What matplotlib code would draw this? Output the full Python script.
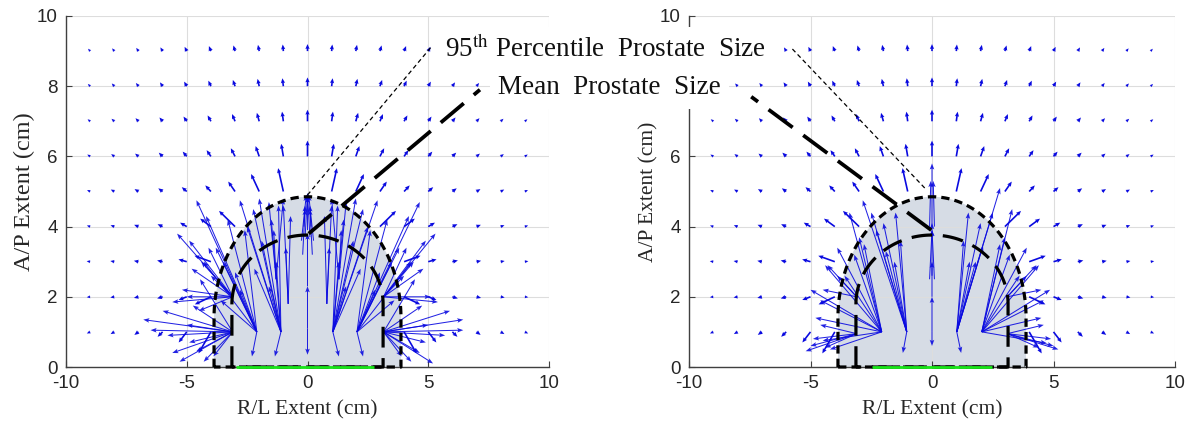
import numpy as np
import matplotlib
matplotlib.use('Agg')
import matplotlib.pyplot as plt

plt.rcParams['font.family'] = ['Liberation Sans', 'DejaVu Sans']
plt.rcParams['mathtext.fontset'] = 'stix'
plt.rcParams['axes.unicode_minus'] = False

# ---------------- data ----------------
GRID_X = list(range(-9, 10))
GRID_Y = list(range(1, 10))

# orientation (deg) of outer field vectors, rows y=1..9, columns x=-9..9
GRID_ANG = [
    [198, 202, 207, 214, 222, 230, 240, 250, 260, 270, 280, 290, 300, 310, 318, 326, 333, 338, 342],
    [185, 187, 190, 192, 195, 198, 200, 200, 190, 90, -10, -20, -20, 342, 345, 348, 350, 353, 355],
    [174, 173, 172, 171, 169, 166, 162, 153, 135, 90, 45, 27, 18, 14, 11, 9, 8, 7, 6],
    [167, 166, 164, 162, 158, 153, 146, 135, 117, 90, 63, 45, 34, 27, 22, 18, 16, 14, 13],
    [162, 159, 157, 153, 149, 143, 135, 124, 108, 90, 72, 56, 45, 37, 31, 27, 23, 21, 18],
    [156, 153, 150, 146, 141, 135, 127, 117, 104, 90, 76, 63, 53, 45, 39, 34, 30, 27, 24],
    [151, 148, 144, 140, 135, 129, 121, 112, 101, 90, 79, 68, 59, 51, 45, 40, 36, 32, 29],
    [146, 143, 139, 135, 130, 124, 117, 108, 100, 90, 80, 72, 63, 56, 50, 45, 41, 37, 34],
    [142, 139, 135, 131, 126, 120, 113, 106, 98, 90, 82, 74, 67, 60, 54, 49, 45, 41, 38],
]
# length (cm) of outer field vectors, rows y=1..9, columns x=-9..9
GRID_LEN = [
    [0.145, 0.165, 0.19, 0.25, 0.45, 0.80, 0, 0, 0, 0, 0, 0, 0, 0.80, 0.45, 0.25, 0.19, 0.165, 0.145],
    [0.14, 0.165, 0.19, 0.23, 0.35, 0.70, 0, 0, 0, 0, 0, 0, 0, 0.70, 0.35, 0.23, 0.19, 0.165, 0.14],
    [0.145, 0.165, 0.19, 0.23, 0.35, 0.70, 0, 0, 0, 0, 0, 0, 0, 0.70, 0.35, 0.23, 0.19, 0.165, 0.145],
    [0.14, 0.16, 0.185, 0.22, 0.30, 0.50, 0.80, 0, 0, 0, 0, 0, 0.80, 0.50, 0.30, 0.22, 0.185, 0.16, 0.14],
    [0.135, 0.155, 0.175, 0.20, 0.24, 0.29, 0.40, 0.60, 0.70, 0, 0.70, 0.60, 0.40, 0.29, 0.24, 0.20, 0.175, 0.155, 0.135],
    [0.13, 0.145, 0.16, 0.19, 0.215, 0.25, 0.29, 0.33, 0.37, 0.45, 0.37, 0.33, 0.29, 0.25, 0.215, 0.19, 0.16, 0.145, 0.13],
    [0.12, 0.135, 0.15, 0.17, 0.19, 0.215, 0.24, 0.26, 0.28, 0.33, 0.28, 0.26, 0.24, 0.215, 0.19, 0.17, 0.15, 0.135, 0.12],
    [0.115, 0.13, 0.14, 0.155, 0.17, 0.19, 0.20, 0.22, 0.23, 0.25, 0.23, 0.22, 0.20, 0.19, 0.17, 0.155, 0.14, 0.13, 0.115],
    [0.11, 0.12, 0.13, 0.14, 0.15, 0.165, 0.175, 0.185, 0.19, 0.20, 0.19, 0.185, 0.175, 0.165, 0.15, 0.14, 0.13, 0.12, 0.11],
]

# interior vector fans: origin -> list of tips (cm)
LEFT_FAN_ORIGINS = [(-3.1, 1.0), (-3.1, 2.0), (-2.1, 1.0), (-1.1, 1.0), (-0.8, 1.8),
                    (-1.3, 2.5), (0.0, 1.1), (0.0, 2.3),
                    (1.05, 1.0), (2.05, 1.0), (3.15, 1.0), (3.15, 2.0), (0.8, 1.8),
                    (1.3, 2.5)]
LEFT_FAN_TIPS = [
    [(-6.8, 1.35), (-6.5, 1.05), (-5.6, 0.4), (-5.3, 0.15), (-4.9, 0.7), (-4.3, 0.15),
     (-4.75, 1.75), (-4.45, 2.5), (-3.9, 0.3), (-6.0, 1.6), (-5.8, 0.9), (-5.0, 1.2), (-4.6, 0.45)],
    [(-5.4, 3.8), (-4.9, 3.6), (-5.0, 2.0), (-5.6, 1.85), (-4.4, 3.0), (-4.1, 3.4), (-4.5, 1.6),
     (-4.8, 2.8), (-4.0, 2.6), (-5.2, 2.2)],
    [(-4.6, 4.75), (-3.8, 3.4), (-3.3, 4.2), (-3.0, 2.7), (-2.3, 0.3), (-3.6, 1.9), (-2.6, 3.9),
     (-4.2, 4.3), (-3.5, 3.0), (-2.8, 2.2), (-4.3, 3.0)],
    [(-2.8, 4.75), (-2.25, 4.5), (-1.9, 3.6), (-1.5, 4.2), (-1.35, 0.3), (-1.6, 2.3), (-1.2, 4.6),
     (-2.5, 4.0), (-2.0, 4.8), (-1.3, 3.0), (-2.2, 2.8)],
    [(-1.0, 4.6), (-0.7, 4.3), (-0.9, 3.4)],
    [(-1.6, 4.7), (-1.0, 4.8), (-1.4, 3.9)],
    [(0.0, 2.3), (0.0, 0.35)],
    [(0.0, 3.8)],
    [(2.9, 4.75), (2.3, 4.5), (1.9, 3.6), (1.5, 4.2), (1.3, 0.3), (1.6, 2.3), (1.25, 4.6),
     (2.5, 4.0), (2.0, 4.8), (1.3, 3.0), (2.2, 2.8)],
    [(4.65, 4.7), (3.8, 3.4), (3.3, 4.2), (3.0, 2.7), (2.3, 0.3), (3.6, 1.9), (2.6, 3.9),
     (4.2, 4.3), (3.5, 3.0), (2.8, 2.2), (4.3, 3.0)],
    [(6.45, 1.35), (6.45, 1.05), (5.2, 0.1), (4.65, 0.4), (4.9, 0.7), (4.3, 0.15), (4.75, 1.75),
     (4.45, 2.5), (5.9, 1.6), (5.7, 0.9), (5.0, 1.2), (3.9, 0.3)],
    [(5.3, 3.8), (4.9, 3.6), (5.1, 2.0), (5.4, 1.85), (4.4, 3.0), (4.1, 3.4), (4.8, 2.8),
     (4.0, 2.6)],
    [(1.0, 4.6), (0.7, 4.3), (0.9, 3.4)],
    [(1.6, 4.7), (1.0, 4.8), (1.4, 3.9)],
]
LEFT_TOP_BASES = [(-0.25, 3.6), (-0.1, 3.7), (0.1, 3.7), (0.25, 3.6), (0.0, 3.9),
                  (-0.15, 4.0), (0.15, 4.0), (-0.2, 3.2), (0.2, 3.2)]
LEFT_TOP_TIPS = [(-0.05, 4.9), (0.0, 4.95), (0.0, 4.95), (0.05, 4.9), (0.0, 4.85),
                 (-0.1, 4.6), (0.1, 4.6), (-0.1, 4.5), (0.1, 4.5)]

RIGHT_FAN_ORIGINS = [(-2.07, 1.0), (-1.04, 1.0), (-3.1, 0.95), (-3.1, 2.0),
                     (0.0, 1.0), (0.0, 2.0),
                     (1.02, 1.0), (2.05, 1.0), (3.1, 0.95), (3.1, 2.0)]
RIGHT_FAN_TIPS = [
    [(-5.0, 2.2), (-4.5, 0.75), (-3.4, 4.4), (-4.4, 2.9), (-3.9, 3.4), (-3.0, 3.7), (-4.8, 1.4),
     (-4.2, 0.5), (-3.2, 3.2), (-2.8, 3.5), (-3.6, 2.6), (-4.6, 1.9)],
    [(-2.85, 4.75), (-2.3, 3.9), (-1.9, 3.3), (-1.2, 0.4), (-1.55, 3.0), (-1.5, 4.4),
     (-2.5, 4.4), (-2.0, 4.1), (-1.3, 3.6)],
    [(-5.2, 0.45), (-4.9, 0.8), (-4.4, 0.55), (-4.6, 1.2), (-5.0, 0.6)],
    [(-4.3, 2.9), (-4.5, 2.2), (-3.9, 2.6)],
    [(0.0, 0.6), (0.0, 2.0)],
    [(0.0, 3.0)],
    [(2.8, 5.1), (2.1, 3.45), (1.8, 3.0), (1.2, 0.4), (1.55, 3.0), (1.5, 4.4), (2.5, 4.4),
     (2.0, 4.1), (1.3, 3.6)],
    [(3.3, 4.5), (4.86, 2.2), (4.4, 2.9), (3.9, 3.4), (4.72, 0.68), (4.5, 1.4), (3.0, 3.7),
     (3.2, 3.2), (2.8, 3.5), (3.6, 2.6), (4.6, 1.9)],
    [(5.2, 0.5), (4.9, 0.8), (4.4, 0.55), (4.6, 1.2), (5.0, 0.6)],
    [(4.3, 2.9), (4.5, 2.2), (3.9, 2.6)],
]
RIGHT_TOP_BASES = [(-0.1, 2.5), (0.1, 2.5), (0.0, 2.6), (0.0, 4.0), (-0.1, 4.0), (0.1, 4.0)]
RIGHT_TOP_TIPS = [(0.0, 3.9), (0.0, 3.9), (0.0, 4.1), (0.0, 5.8), (-0.05, 5.3), (0.05, 5.3)]

# prostate outlines: half-width, straight-side height, arc height (cm)
OUTER_95 = (3.87, 1.4, 3.45)
INNER_MEAN = (3.13, 1.8, 1.96)
GREEN_SPAN = {'left': (-2.95, 2.75), 'right': (-2.47, 2.47)}

# leader lines (cm, in each panel's coordinates)
LEADERS = {
    'left': {'p95': ((0.0, 4.9), (5.1, 9.1)), 'mean': ((0.05, 3.8), (7.14, 7.9))},
    'right': {'p95': ((-0.3, 5.1), (-5.8, 9.1)), 'mean': ((-0.03, 3.9), (-7.44, 7.7))},
}

X_TICKS = [-10, -5, 0, 5, 10]
Y_TICKS = [0, 2, 4, 6, 8, 10]
Y_LABELS = {'left': ['0', '2', '4', '6', '8', '10'],
            'right': ['0', '2', '4', '6', '', '10']}

# ---------------- drawing ----------------
W, H = 1194, 430
fig = plt.figure(figsize=(W / 100, H / 100), dpi=100)

BLUE = '#0a0ae0'
SERIF = ['Liberation Serif', 'DejaVu Serif']


def outline(params):
    a, c, b = params
    t = np.linspace(np.pi, 0, 120)
    xs = np.concatenate([[-a], a * np.cos(t), [a, a, -a, -a]])
    ys = np.concatenate([[0], c + b * np.sin(t), [c, 0, 0, 0]])
    ys[1] = c
    ys[-2] = 0
    return xs, ys


def draw_panel(rect, origins, tips, top_b, top_t, side, ylab_size):
    ax = fig.add_axes(rect)
    ax.set_xlim(-10, 10)
    ax.set_ylim(0, 10)

    xo, yo = outline(OUTER_95)
    ax.fill(xo, yo, color='#d6dce5', lw=0, zorder=1)

    gx, gy = np.meshgrid(GRID_X, GRID_Y)
    ang = np.radians(np.array(GRID_ANG, dtype=float))
    ln = np.array(GRID_LEN, dtype=float)
    m = ln > 0
    ax.quiver(gx[m], gy[m], (ln * np.cos(ang))[m], (ln * np.sin(ang))[m],
              angles='xy', scale_units='xy', scale=1, color=BLUE,
              width=0.0034, headwidth=2.6, headlength=3.0, headaxislength=2.7,
              zorder=3)

    bx, by, ux, vy = [], [], [], []
    for (ox, oy), tl in zip(origins, tips):
        for (tx, ty) in tl:
            bx.append(ox); by.append(oy); ux.append(tx - ox); vy.append(ty - oy)
    for (ox, oy), (tx, ty) in zip(top_b, top_t):
        bx.append(ox); by.append(oy); ux.append(tx - ox); vy.append(ty - oy)
    ax.quiver(bx, by, ux, vy, angles='xy', scale_units='xy', scale=1,
              color=BLUE, width=0.0021, headwidth=4.5, headlength=6,
              headaxislength=5, alpha=0.9, zorder=3)

    g0, g1 = GREEN_SPAN[side]

    xi, yi = outline(INNER_MEAN)
    ax.plot(xo, yo, color='k', lw=2.3, ls=(0, (2.6, 1.6)), zorder=5,
            clip_on=False, dash_capstyle='butt')
    ax.plot(xi, yi, color='k', lw=2.3, ls=(0, (6.5, 3.3)), zorder=5,
            clip_on=False, dash_capstyle='butt')
    ax.plot([g0, g1], [0, 0], color='#19e619', lw=2.0, zorder=5.5, clip_on=False,
            solid_capstyle='butt')

    (a0, a1) = LEADERS[side]['p95']
    ax.plot([a0[0], a1[0]], [a0[1], a1[1]], color='k', lw=0.9,
            ls=(0, (3.5, 2.5)), zorder=6)
    (b0, b1) = LEADERS[side]['mean']
    ax.plot([b0[0], b1[0]], [b0[1], b1[1]], color='k', lw=2.7,
            ls=(0, (8, 3.5)), zorder=6, dash_capstyle='butt')

    ax.set_xticks(X_TICKS)
    ax.set_yticks(Y_TICKS)
    ax.set_yticklabels(Y_LABELS[side])
    ax.tick_params(direction='in', length=4, width=0.8, color='#404040',
                   labelsize=13.5, labelcolor='#262626', pad=6)
    for s in ('top', 'right'):
        ax.spines[s].set_visible(False)
    for s in ('left', 'bottom'):
        ax.spines[s].set_color('#404040')
        ax.spines[s].set_linewidth(1.0)
        ax.spines[s].set_zorder(2)
    ax.grid(True, color='#dddddd', lw=0.8)
    ax.set_axisbelow('line')
    ax.set_xlabel('R/L Extent (cm)', fontsize=15.5, family=SERIF,
                  color='#262626', labelpad=6)
    ax.set_ylabel('A/P Extent (cm)', fontsize=ylab_size, family=SERIF,
                  color='#262626', labelpad=1)
    return ax


axL = draw_panel([66 / W, 63 / H, 483 / W, 351 / H], LEFT_FAN_ORIGINS,
                 LEFT_FAN_TIPS, LEFT_TOP_BASES, LEFT_TOP_TIPS, 'left', 17.5)
axR = draw_panel([689 / W, 63 / H, 486 / W, 351 / H], RIGHT_FAN_ORIGINS,
                 RIGHT_FAN_TIPS, RIGHT_TOP_BASES, RIGHT_TOP_TIPS, 'right', 15.5)

box = dict(facecolor='white', edgecolor='none', boxstyle='square,pad=0.3')
fig.text(445 / W, 1 - 49 / H, '95$^{\\mathrm{th}}$ Percentile  Prostate  Size',
         fontsize=19.5, family=SERIF, ha='left', va='center', bbox=box,
         zorder=10, color='#111111')
fig.text(498 / W, 1 - 88 / H, 'Mean  Prostate  Size', fontsize=19.5, family=SERIF,
         ha='left', va='center', bbox=box, zorder=10, color='#111111')

fig.savefig('out.png', dpi=100)
